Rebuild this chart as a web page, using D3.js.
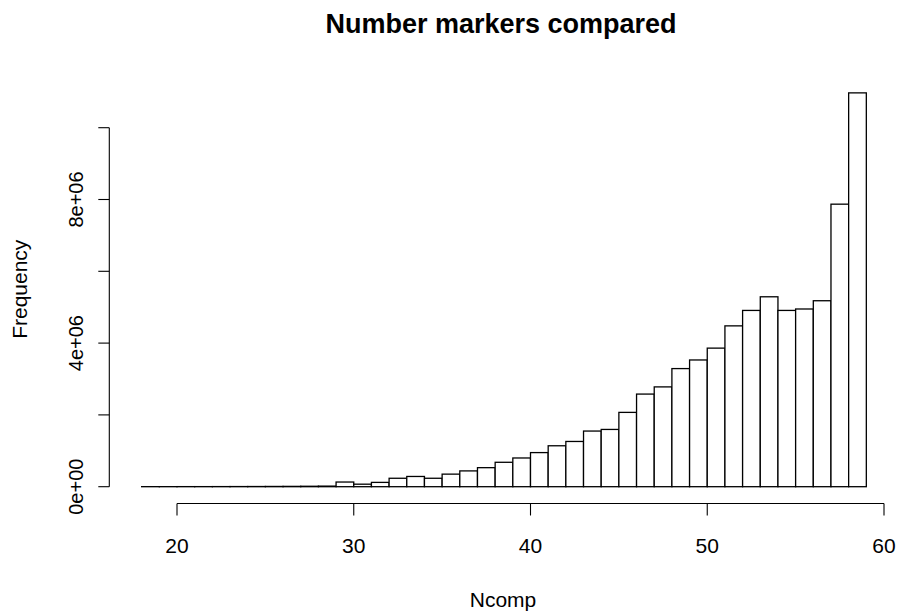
<!DOCTYPE html>
<html>
<head>
<meta charset="utf-8">
<script src="https://cdn.jsdelivr.net/npm/d3@7"></script>
<style>
  body { margin: 0; background: #fff; }
  svg { display: block; font-family: "Liberation Sans", Arial, sans-serif; }
</style>
</head>
<body>
<div id="chart"></div>
<script>
// histogram breaks (left edge of each bin, width 1) and counts
const binStarts = [18, 19, 20, 21, 22, 23, 24, 25, 26, 27, 28, 29, 30, 31, 32, 33, 34, 35, 36, 37,
  38, 39, 40, 41, 42, 43, 44, 45, 46, 47, 48, 49, 50, 51, 52, 53, 54, 55, 56, 57, 58];
const counts = [1000, 1000, 2000, 2000, 3000, 4000, 5000, 7000, 9000, 12000, 16000,
  130000, 70000, 120000, 235000, 285000, 235000, 350000, 440000, 530000, 680000,
  800000, 950000, 1140000, 1260000, 1550000, 1595000, 2070000, 2580000, 2780000,
  3290000, 3530000, 3860000, 4480000, 4910000, 5290000, 4910000, 4950000, 5180000,
  7870000, 10970000];
const xTicks = [20, 30, 40, 50, 60];
const yTicks = [0, 2e6, 4e6, 6e6, 8e6, 1e7];
const yLabels = { 0: '0e+00', 4000000: '4e+06', 8000000: '8e+06' };

const width = 899, height = 614;

const x = d3.scaleLinear().domain([20, 60]).range([177, 884]);
const y = d3.scaleLinear().domain([0, 1e7]).range([486.7, 127.7]);

const svg = d3.select('#chart').append('svg')
  .attr('width', width)
  .attr('height', height);

// bars
svg.append('g').selectAll('rect')
  .data(binStarts.map((b, i) => ({ x0: b, x1: b + 1, n: counts[i] })))
  .join('rect')
  .attr('x', d => x(d.x0))
  .attr('width', d => x(d.x1) - x(d.x0))
  .attr('y', d => y(d.n))
  .attr('height', d => y(0) - y(d.n))
  .attr('fill', '#fff')
  .attr('stroke', '#000')
  .attr('stroke-width', 1.3);

// x axis (R style: line only spans the ticks)
const xAxisY = 503.5, tickLen = 12;
const gx = svg.append('g').attr('stroke', '#000').attr('stroke-width', 1.1);
gx.append('line')
  .attr('x1', x(xTicks[0])).attr('x2', x(xTicks[xTicks.length - 1]))
  .attr('y1', xAxisY).attr('y2', xAxisY);
gx.selectAll('line.tick').data(xTicks).join('line')
  .attr('class', 'tick')
  .attr('x1', d => x(d)).attr('x2', d => x(d))
  .attr('y1', xAxisY).attr('y2', xAxisY + tickLen);
svg.append('g').selectAll('text').data(xTicks).join('text')
  .attr('x', d => x(d))
  .attr('y', 553)
  .attr('text-anchor', 'middle')
  .attr('font-size', 21)
  .text(d => d);

// y axis
const yAxisX = 109.3;
const gy = svg.append('g').attr('stroke', '#000').attr('stroke-width', 1.1);
gy.append('line')
  .attr('x1', yAxisX).attr('x2', yAxisX)
  .attr('y1', y(0)).attr('y2', y(1e7));
gy.selectAll('line.tick').data(yTicks).join('line')
  .attr('class', 'tick')
  .attr('x1', yAxisX).attr('x2', yAxisX - 11)
  .attr('y1', d => y(d)).attr('y2', d => y(d));
svg.append('g').selectAll('text').data(yTicks.filter(d => yLabels[d])).join('text')
  .attr('transform', d => `translate(83.3,${y(d)}) rotate(-90)`)
  .attr('text-anchor', 'middle')
  .attr('font-size', 20)
  .text(d => yLabels[d]);

// titles
svg.append('text')
  .attr('x', 501).attr('y', 33)
  .attr('text-anchor', 'middle')
  .attr('font-size', 27)
  .attr('font-weight', 'bold')
  .text('Number markers compared');

svg.append('text')
  .attr('x', 503).attr('y', 607)
  .attr('text-anchor', 'middle')
  .attr('font-size', 21)
  .text('Ncomp');

svg.append('text')
  .attr('transform', `translate(27,${y(5.5e6)}) rotate(-90)`)
  .attr('text-anchor', 'middle')
  .attr('font-size', 21)
  .text('Frequency');
</script>
</body>
</html>
